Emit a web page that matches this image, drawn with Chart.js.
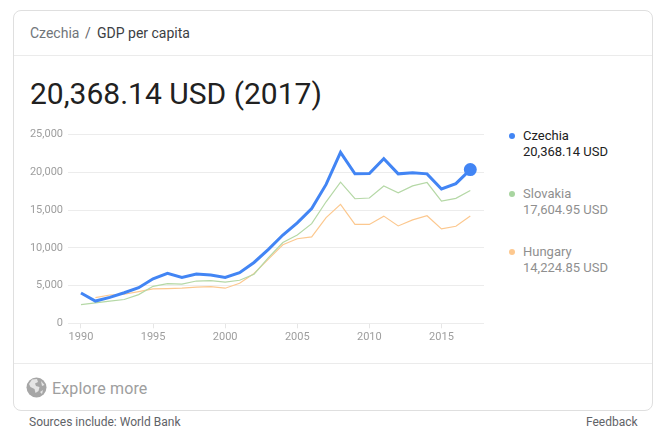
<!DOCTYPE html>
<html>
<head>
<meta charset="utf-8">
<title>Czechia GDP per capita</title>
<script src="https://cdn.jsdelivr.net/npm/chart.js@4"></script>
<style>
  html, body { margin: 0; padding: 0; background: #fff; }
  body { width: 667px; height: 438px; position: relative; overflow: hidden; font-family: Roboto, sans-serif; }
  .card { position: absolute; left: 13px; top: 10px; width: 638px; height: 399px; border: 1px solid #dfdfdf; border-radius: 8px; }
  .line { position: absolute; left: 14px; width: 638px; height: 1px; background: #ebebeb; }
  .txt { position: absolute; white-space: nowrap; }
  #chartBox { position: absolute; left: 20px; top: 123px; width: 472px; height: 227px; }
  canvas { display: block; }
  .legend-item { position: absolute; left: 523px; font-size: 13px; line-height: 16px; color: #8f8f8f; white-space: nowrap; }
  .legend-item.first { color: #212121; }
  .dot { position: absolute; left: -14px; top: 5px; width: 6px; height: 6px; border-radius: 50%; }
</style>
</head>
<body>
<div class="card"></div>
<div class="line" style="top:55px"></div>
<div class="line" style="top:363px"></div>
<div class="txt" style="left:30px;top:25px;font-size:14px;line-height:16px;color:#70757a">Czechia</div>
<div class="txt" style="left:85px;top:25px;font-size:14px;line-height:16px;color:#5f6368">/</div>
<div class="txt" style="left:97px;top:25px;font-size:14px;line-height:16px;color:#3c4043">GDP per capita</div>
<div class="txt" style="left:30px;top:76px;font-size:30px;line-height:36px;color:#212121">20,368.14 USD (2017)</div>
<div id="chartBox"><canvas id="gdpChart" width="472" height="227"></canvas></div>
<div id="legend"></div>
<svg class="txt" style="left:26px;top:377px" width="21" height="21" viewBox="0 0 21 21">
  <circle cx="10.5" cy="10.5" r="10" fill="#a6a6a6"/>
  <path d="M6 2.5 L11 2 L12 5 L9 6.5 L10 9 L13.5 10 L12.5 14 L9.5 16 L8.5 12 L4.5 10 L3 7 Z M15 4 L18.5 8 L16 9 Z M14 15 L17 13 L16 17 Z" fill="#e4e4e4"/>
</svg>
<div class="txt" style="left:52px;top:379px;font-size:16px;line-height:19px;letter-spacing:.15px;color:#9e9e9e">Explore more</div>
<div class="txt" style="left:29px;top:415px;font-size:12px;line-height:14px;color:#5f6368">Sources include: World Bank</div>
<div class="txt" style="left:586px;top:415px;font-size:12px;line-height:14px;color:#5f6368">Feedback</div>
<script>
const years = [1990,1991,1992,1993,1994,1995,1996,1997,1998,1999,2000,2001,2002,2003,2004,2005,2006,2007,2008,2009,2010,2011,2012,2013,2014,2015,2016,2017];
const czechia = [4010,2950,3440,4050,4720,5900,6610,6080,6520,6390,6080,6700,8060,9800,11700,13300,15200,18400,22650,19800,19850,21800,19800,19950,19800,17800,18500,20368.14];
const slovakia = [2470,2700,2950,3150,3800,4900,5250,5200,5600,5650,5450,5700,6500,8700,10700,11700,13200,16100,18700,16500,16600,18200,17300,18200,18650,16200,16550,17604.95];
const hungary = [null,3400,3750,3850,4200,4550,4600,4650,4800,4850,4650,5300,6600,8500,10400,11200,11450,14000,15750,13100,13100,14200,12900,13700,14250,12500,12850,14224.85];
const xTicks = [1990,1995,2000,2005,2010,2015];
const yTicks = [0,5000,10000,15000,20000,25000];
const legendNames = ['Czechia','Slovakia','Hungary'];
const legendValues = ['20,368.14 USD','17,604.95 USD','14,224.85 USD'];
const legendColors = ['#4285f4','#a8d5a0','#fdc88f'];
const legendTops = [128,186,244];

// legend on the right
const legendBox = document.getElementById('legend');
legendNames.forEach((name, i) => {
  const item = document.createElement('div');
  item.className = 'legend-item' + (i === 0 ? ' first' : '');
  item.style.top = legendTops[i] + 'px';
  item.innerHTML = '<span class="dot" style="background:' + legendColors[i] + '"></span>' + name + '<br>' + legendValues[i];
  legendBox.appendChild(item);
});

function toPoints(values) {
  return values.map((v, i) => ({ x: years[i], y: v }));
}

var gdpChart = new Chart(document.getElementById('gdpChart'), {
  type: 'line',
  data: {
    datasets: [{
      label: legendNames[0],
      data: toPoints(czechia),
      borderColor: '#4285f4',
      backgroundColor: '#4285f4',
      borderWidth: 3,
      // only the last point gets the big dot
      pointRadius: years.map((y, i) => i === years.length - 1 ? 5 : 0)
    }, {
      label: legendNames[1],
      data: toPoints(slovakia),
      borderColor: '#b5d8a6',
      borderWidth: 1.2,
      pointRadius: 0
    }, {
      label: legendNames[2],
      data: toPoints(hungary),
      borderColor: '#fcc88f',
      borderWidth: 1.2,
      pointRadius: 0
    }]
  },
  options: {
    responsive: false,
    animation: false,
    layout: { padding: { top: 0, right: 0, left: 0, bottom: 0 } },
    plugins: { legend: { display: false }, tooltip: { enabled: false } },
    scales: {
      x: {
        type: 'linear',
        min: 1989.1,
        max: 2017.95,
        afterBuildTicks: axis => { axis.ticks = xTicks.map(v => ({ value: v })); },
        afterFit: axis => { axis.height = 26.7; },
        border: { display: false },
        grid: { drawOnChartArea: false, tickLength: 5, tickColor: '#e6e6e6' },
        ticks: {
          autoSkip: false,
          maxRotation: 0,
          padding: 2,
          color: '#9e9e9e',
          font: { family: 'Roboto', size: 11 },
          callback: v => String(v)
        }
      },
      y: {
        min: 0,
        max: 25000,
        afterBuildTicks: axis => { axis.ticks = yTicks.map(v => ({ value: v })); },
        afterFit: axis => { axis.width = 48; },
        border: { display: false },
        grid: { drawTicks: false, color: '#ececec' },
        ticks: {
          padding: 5,
          color: '#9e9e9e',
          font: { family: 'Roboto', size: 11 },
          callback: v => v.toLocaleString('en-US')
        }
      }
    }
  }
});
</script>
</body>
</html>
